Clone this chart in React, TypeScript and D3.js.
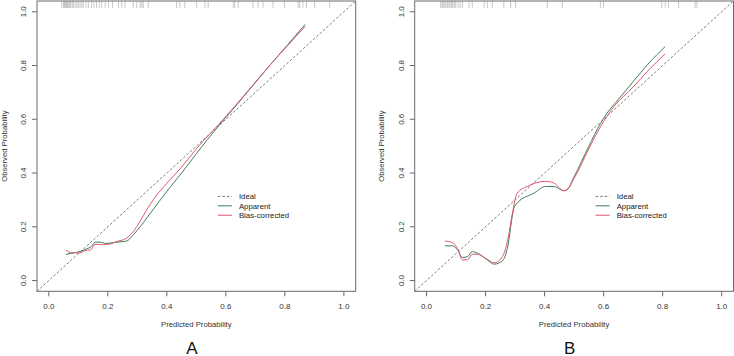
import React from "react";
import * as d3 from "d3";

const ticks = [0, 0.2, 0.4, 0.6, 0.8, 1.0];
const tickLabels = ["0.0", "0.2", "0.4", "0.6", "0.8", "1.0"];
const legendLabels = ["Ideal", "Apparent", "Bias-corrected"];
const panelLabels = ["A", "B"];

const aApparentX = [0.058, 0.078, 0.106, 0.128, 0.145, 0.157, 0.174, 0.19, 0.219, 0.252, 0.264, 0.286, 0.32, 0.354, 0.40, 0.45, 0.50, 0.575, 0.63, 0.692, 0.75, 0.81, 0.869];
const aApparentY = [0.097, 0.102, 0.108, 0.118, 0.127, 0.143, 0.143, 0.138, 0.141, 0.145, 0.147, 0.170, 0.215, 0.265, 0.332, 0.400, 0.472, 0.575, 0.645, 0.726, 0.802, 0.878, 0.953];
const aBiasX = [0.058, 0.078, 0.106, 0.128, 0.14, 0.157, 0.185, 0.207, 0.235, 0.258, 0.286, 0.31, 0.331, 0.36, 0.40, 0.45, 0.50, 0.575, 0.63, 0.692, 0.75, 0.81, 0.869];
const aBiasY = [0.113, 0.103, 0.103, 0.113, 0.113, 0.135, 0.133, 0.136, 0.147, 0.154, 0.182, 0.222, 0.262, 0.31, 0.362, 0.422, 0.49, 0.580, 0.648, 0.728, 0.802, 0.875, 0.946];

const bApparentX = [0.062, 0.088, 0.105, 0.122, 0.139, 0.155, 0.172, 0.206, 0.229, 0.257, 0.274, 0.296, 0.307, 0.364, 0.403, 0.431, 0.465, 0.476, 0.50, 0.55, 0.589, 0.611, 0.65, 0.70, 0.75, 0.808];
const bApparentY = [0.129, 0.129, 0.114, 0.086, 0.089, 0.108, 0.102, 0.077, 0.061, 0.073, 0.12, 0.269, 0.288, 0.325, 0.35, 0.35, 0.334, 0.338, 0.386, 0.50, 0.584, 0.622, 0.674, 0.74, 0.805, 0.870];
const bBiasX = [0.062, 0.088, 0.105, 0.122, 0.139, 0.155, 0.172, 0.206, 0.229, 0.257, 0.274, 0.291, 0.307, 0.341, 0.403, 0.431, 0.465, 0.476, 0.50, 0.55, 0.589, 0.634, 0.70, 0.75, 0.808];
const bBiasY = [0.147, 0.141, 0.12, 0.077, 0.077, 0.098, 0.098, 0.079, 0.066, 0.089, 0.145, 0.25, 0.325, 0.35, 0.369, 0.363, 0.334, 0.338, 0.38, 0.49, 0.572, 0.646, 0.72, 0.78, 0.843];

const aRug = [0.044, 0.050, 0.053, 0.056, 0.060, 0.063, 0.066, 0.070, 0.074, 0.079, 0.083, 0.089, 0.095, 0.100, 0.106, 0.112, 0.117, 0.126, 0.134, 0.145, 0.153, 0.162, 0.171, 0.179, 0.191, 0.202, 0.216, 0.236, 0.247, 0.258, 0.286, 0.298, 0.309, 0.315, 0.320, 0.337, 0.433, 0.444, 0.461, 0.501, 0.529, 0.540, 0.625, 0.630, 0.642, 0.692, 0.709, 0.726, 0.760, 0.799, 0.845, 0.850, 0.861, 0.873, 0.901, 0.952];
const bRug = [0.048, 0.053, 0.057, 0.062, 0.066, 0.071, 0.076, 0.080, 0.085, 0.089, 0.094, 0.099, 0.107, 0.114, 0.122, 0.144, 0.155, 0.195, 0.206, 0.223, 0.262, 0.285, 0.302, 0.409, 0.460, 0.589, 0.600, 0.797, 0.809, 0.820, 0.854, 0.910, 0.916];

const GREEN = "#3f7d5c";
const RED = "#e0566e";
const GRAY = "#6a6a6a";
const FONT = "'Liberation Sans', Arial, sans-serif";

type PanelProps = {
  left: number; right: number; label: string;
  appX: number[]; appY: number[]; biasX: number[]; biasY: number[]; rug: number[];
};

const TOP = 1;
const BOTTOM = 291.3;

function Panel({ left, right, label, appX, appY, biasX, biasY, rug }: PanelProps) {
  const x = d3.scaleLinear().domain([-0.04, 1.04]).range([left, right]);
  const y = d3.scaleLinear().domain([-0.04, 1.04]).range([BOTTOM, TOP]);
  const line = d3.line<[number, number]>().x(d => x(d[0])).y(d => y(d[1])).curve(d3.curveMonotoneX);
  const app = line(appX.map((v, i) => [v, appY[i]] as [number, number])) || "";
  const bias = line(biasX.map((v, i) => [v, biasY[i]] as [number, number])) || "";
  const clipId = "clip" + label;
  const lx = x(0.573);
  const ly0 = y(0.313);
  const step = 9.4;
  return (
    <g fontFamily={FONT}>
      <defs>
        <clipPath id={clipId}>
          <rect x={left} y={TOP} width={right - left} height={BOTTOM - TOP} />
        </clipPath>
      </defs>
      <g clipPath={`url(#${clipId})`}>
        <line x1={x(-0.04)} y1={y(-0.04)} x2={x(1.04)} y2={y(1.04)} stroke={GRAY} strokeWidth={0.9} strokeDasharray="2.5,2" />
        {rug.map((v, i) => (
          <line key={i} x1={x(v)} x2={x(v)} y1={TOP} y2={TOP + 7} stroke="#8c8c8c" strokeOpacity={0.6} strokeWidth={0.8} />
        ))}
        <path d={app} fill="none" stroke={GREEN} strokeWidth={1} />
        <path d={bias} fill="none" stroke={RED} strokeWidth={1} />
      </g>
      <rect x={left} y={TOP} width={right - left} height={BOTTOM - TOP} fill="none" stroke={GRAY} strokeWidth={1} />
      {ticks.map((t, i) => (
        <g key={"x" + i}>
          <line x1={x(t)} x2={x(t)} y1={BOTTOM} y2={BOTTOM + 5} stroke={GRAY} strokeWidth={1} />
          <text x={x(t)} y={305.7} dy="0.35em" textAnchor="middle" fontSize={8} fill="#333">{tickLabels[i]}</text>
        </g>
      ))}
      {ticks.map((t, i) => (
        <g key={"y" + i}>
          <line x1={left} x2={left - 5} y1={y(t)} y2={y(t)} stroke={GRAY} strokeWidth={1} />
          <text transform={`translate(${left - 13.7},${y(t)}) rotate(-90)`} dy="0.35em" textAnchor="middle" fontSize={8} fill="#333">{tickLabels[i]}</text>
        </g>
      ))}
      <text x={x(0.5)} y={324.7} dy="0.35em" textAnchor="middle" fontSize={7.7} fill="#333">Predicted Probability</text>
      <text transform={`translate(${left - 33},${y(0.5)}) rotate(-90)`} dy="0.35em" textAnchor="middle" fontSize={7.7} fill="#333">Observed Probability</text>
      <line x1={lx} x2={lx + 14} y1={ly0} y2={ly0} stroke={GRAY} strokeWidth={0.9} strokeDasharray="2.5,2" />
      <line x1={lx} x2={lx + 14} y1={ly0 + step} y2={ly0 + step} stroke={GREEN} strokeWidth={1} />
      <line x1={lx} x2={lx + 14} y1={ly0 + 2 * step} y2={ly0 + 2 * step} stroke={RED} strokeWidth={1} />
      {legendLabels.map((s, i) => (
        <text key={s} x={lx + 21} y={ly0 + i * step} dy="0.35em" fontSize={7.8} fill="#222">{s}</text>
      ))}
      <text x={x(0.485)} y={353.5} textAnchor="middle" fontSize={17} fill="#111">{label}</text>
    </g>
  );
}

export default function App() {
  return (
    <svg width={734} height={356} style={{ position: "absolute", left: 0, top: 0, background: "#fff" }}>
      <rect x={0} y={0} width={734} height={356} fill="#fff" />
      <Panel left={37} right={355.7} label={panelLabels[0]} appX={aApparentX} appY={aApparentY} biasX={aBiasX} biasY={aBiasY} rug={aRug} />
      <Panel left={414.7} right={733.5} label={panelLabels[1]} appX={bApparentX} appY={bApparentY} biasX={bBiasX} biasY={bBiasY} rug={bRug} />
    </svg>
  );
}
